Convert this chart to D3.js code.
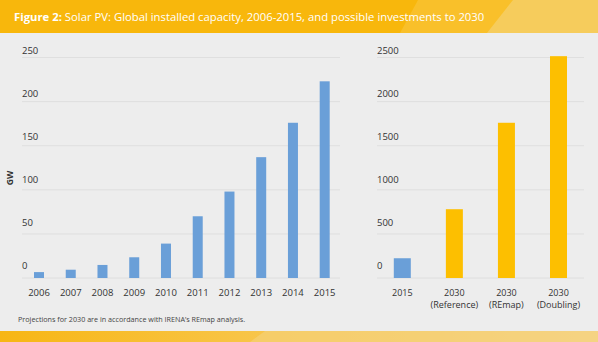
<!DOCTYPE html>
<html>
<head>
<meta charset="utf-8">
<script src="https://cdn.jsdelivr.net/npm/d3@7"></script>
<style>
  body { margin: 0; background: #fff; }
  svg { display: block; font-family: 'Open Sans', sans-serif; }
</style>
</head>
<body>
<div id="chart"></div>
<script>
// data
const years = ['2006', '2007', '2008', '2009', '2010', '2011', '2012', '2013', '2014', '2015']
const capacity = [6.7, 9.4, 14.8, 23.5, 39, 70, 98, 137, 176, 223]
const scenarios = ['2015', '2030 (Reference)', '2030 (REmap)', '2030 (Doubling)']
const scenarioLines = [['2015'], ['2030', '(Reference)'], ['2030', '(REmap)'], ['2030', '(Doubling)']]
const scenarioValues = [224, 780, 1760, 2515]
const scenarioKind = ['hist', 'proj', 'proj', 'proj']
const leftTicks = [0, 50, 100, 150, 200, 250]
const rightTicks = [0, 500, 1000, 1500, 2000, 2500]

const W = 598, H = 342
const blue = '#6a9fd8', gold = '#fdbf00'

const svg = d3.select('#chart').append('svg')
    .attr('width', W)
    .attr('height', H)

// background + header bands
svg.append('rect').attr('width', W).attr('height', H).attr('fill', '#ededed')
svg.append('rect').attr('width', W).attr('height', 33).attr('fill', '#f8b70c')
svg.append('path').attr('d', 'M418,0 L598,0 L598,33 L400,33 Z').attr('fill', '#f9c02a')
svg.append('path').attr('d', 'M513,0 L598,0 L598,33 L487,33 Z').attr('fill', '#f6cc5c')

// bottom band
const grad = svg.append('defs').append('linearGradient').attr('id', 'bot')
grad.append('stop').attr('offset', '0%').attr('stop-color', '#f7b614')
grad.append('stop').attr('offset', '40%').attr('stop-color', '#f8c445')
grad.append('stop').attr('offset', '100%').attr('stop-color', '#f4d58c')
svg.append('rect').attr('y', 331).attr('width', W).attr('height', H - 331).attr('fill', 'url(#bot)')
svg.append('path').attr('d', 'M265,331 L598,331 L598,342 L250,342 Z').attr('fill', '#f5d27d').attr('opacity', 0.6)

// title
const title = svg.append('text').attr('x', 14).attr('y', 20.5)
    .attr('fill', '#fff').style('font-size', '11.3px')
title.append('tspan').attr('font-weight', 700).text('Figure 2:')
title.append('tspan').text(' Solar PV: Global installed capacity, 2006-2015, and possible investments to 2030')

// scales
const yL = d3.scaleLinear().domain([0, 250]).range([278, 57.5])
const yR = d3.scaleLinear().domain([0, 2500]).range([278, 57.5])
const labL = d3.scaleLinear().domain([0, 250]).range([268.5, 54])
const labR = d3.scaleLinear().domain([0, 2500]).range([268.5, 54])
const xL = d3.scalePoint().domain(years).range([39, 324.7])
const xR = d3.scalePoint().domain(scenarios).range([402.3, 558.5])

// grids
const gridColor = '#dadada'
svg.append('g').selectAll('line').data(leftTicks).join('line')
    .attr('x1', 22).attr('x2', 340)
    .attr('y1', d => yL(d)).attr('y2', d => yL(d))
    .attr('stroke', gridColor).attr('stroke-width', 0.8)
svg.append('g').selectAll('line').data(rightTicks).join('line')
    .attr('x1', 377).attr('x2', 584)
    .attr('y1', d => yR(d)).attr('y2', d => yR(d))
    .attr('stroke', gridColor).attr('stroke-width', 0.8)

// y labels
svg.append('g').selectAll('text').data(leftTicks).join('text')
    .attr('x', 22).attr('y', d => labL(d))
    .attr('fill', '#333').style('font-size', '9.5px')
    .text(d => d)
svg.append('g').selectAll('text').data(rightTicks).join('text')
    .attr('x', 377).attr('y', d => labR(d))
    .attr('fill', '#333').style('font-size', '9.5px')
    .text(d => d)

svg.append('text')
    .attr('transform', 'translate(13,178) rotate(-90)')
    .attr('text-anchor', 'middle')
    .attr('font-weight', 700).attr('fill', '#333')
    .style('font-size', '8.5px')
    .text('GW')

// bars
const bwL = 10, bwR = 17
svg.append('g').selectAll('rect').data(capacity).join('rect')
    .attr('x', (d, i) => xL(years[i]) - bwL / 2)
    .attr('width', bwL)
    .attr('y', d => yL(d))
    .attr('height', d => yL(0) - yL(d))
    .attr('fill', blue)

svg.append('g').selectAll('rect').data(scenarioValues).join('rect')
    .attr('x', (d, i) => xR(scenarios[i]) - bwR / 2)
    .attr('width', bwR)
    .attr('y', d => yR(d))
    .attr('height', d => yR(0) - yR(d))
    .attr('fill', (d, i) => scenarioKind[i] === 'hist' ? blue : gold)

// x labels
svg.append('g').selectAll('text').data(years).join('text')
    .attr('x', d => xL(d)).attr('y', 296)
    .attr('text-anchor', 'middle').attr('fill', '#333')
    .style('font-size', '9.5px')
    .text(d => d)

const xr = svg.append('g').selectAll('text').data(scenarios).join('text')
    .attr('text-anchor', 'middle').attr('fill', '#333')
    .style('font-size', '9px')
xr.selectAll('tspan').data((d, i) => scenarioLines[i].map(t => ({ t, key: d })))
    .join('tspan')
    .attr('x', d => xR(d.key))
    .attr('y', (d, j) => 296 + j * 11.5)
    .text(d => d.t)

// footnote
svg.append('text').attr('x', 18).attr('y', 322)
    .attr('fill', '#444').style('font-size', '7.2px')
    .text('Projections for 2030 are in accordance with IRENA\u2019s REmap analysis.')
</script>
</body>
</html>
